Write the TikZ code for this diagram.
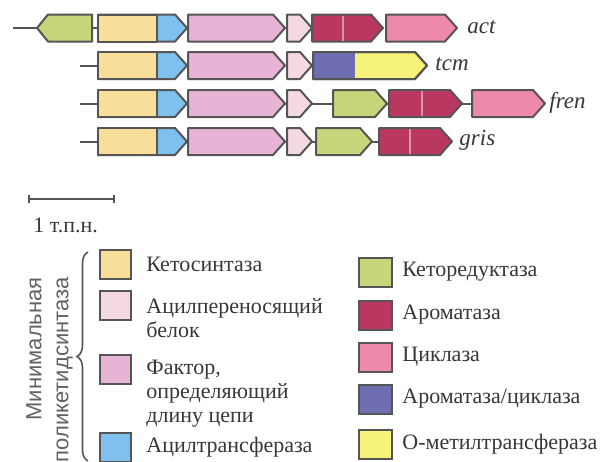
\documentclass[tikz,border=0pt]{standalone}
\usepackage{fontspec}
\setmainfont{Liberation Serif}
\newfontfamily\legendserif{Liberation Serif}
\newfontfamily\legendsans{Liberation Sans}
\usepackage{tikz}
\usepackage{xcolor}
\usetikzlibrary{arrows.meta, decorations.pathreplacing}
\definecolor{ksyellow}{RGB}{248, 222, 152}
\definecolor{atblue}{RGB}{128, 192, 238}
\definecolor{clfpink}{RGB}{232, 180, 214}
\definecolor{acppink}{RGB}{244, 216, 226}
\definecolor{krgreen}{RGB}{198, 214, 122}
\definecolor{aromred}{RGB}{186, 56, 96}
\definecolor{cycpink}{RGB}{238, 136, 172}
\definecolor{arcycviolet}{RGB}{112, 110, 178}
\definecolor{omtyellow}{RGB}{246, 242, 122}
\definecolor{outline}{RGB}{85, 85, 85}
\definecolor{legendtext}{RGB}{55, 55, 55}

% gene arrow pointing right: [extra]{x left}{x tip}{y}{colour}
\newcommand{\gene}[5][]{\filldraw[gene, fill=#5, #1] (#2,#4-13.5) -- (#3-12,#4-13.5) -- (#3,#4) -- (#3-12,#4+13.5) -- (#2,#4+13.5) -- cycle;}
% gene arrow pointing left: {x tip}{x right}{y}{colour}
\newcommand{\generev}[4]{\filldraw[gene, fill=#4] (#1,#3) -- (#1+11,#3-13.5) -- (#2,#3-13.5) -- (#2,#3+13.5) -- (#1+11,#3+13.5) -- cycle;}

\begin{document}
\begin{tikzpicture}[
    x=0.5pt, y=-0.5pt,
    gene/.style={draw=outline, line width=1pt, line join=round},
    backbone/.style={draw=outline, line width=1pt},
    divider/.style={draw=aromred!55!white, line width=0.8pt},
    genelabel/.style={anchor=west, inner sep=0pt, text=legendtext, font=\legendserif\fontsize{11.5}{12}\selectfont\itshape},
    legbox/.style={draw=outline, line width=1pt, minimum width=15.5pt, minimum height=14.5pt, inner sep=0pt},
    legboxwide/.style={legbox, minimum width=16.5pt},
    legtext/.style={inner sep=0pt, align=left, text=legendtext, font=\legendserif\fontsize{11}{12}\selectfont}
]
    \useasboundingbox (0,0) rectangle (608,461);

    % --- Coordinates ---
    \coordinate (act_l)  at (13, 28);
    \coordinate (act_r)  at (40, 28);
    \coordinate (tcm_l)  at (80, 65.5);
    \coordinate (tcm_r)  at (100, 65.5);
    \coordinate (fren_l) at (80, 103.5);
    \coordinate (fren_r) at (472, 103.5);
    \coordinate (gris_l) at (80, 141.5);
    \coordinate (gris_r) at (379, 141.5);

    % --- Backbones ---
    \draw[backbone] (act_l) -- (act_r);
    \draw[backbone] (90, 28) -- (100, 28);
    \draw[backbone] (tcm_l) -- (tcm_r);
    \draw[backbone] (fren_l) -- (fren_r);
    \draw[backbone] (gris_l) -- (gris_r);

    % --- Cluster act ---
    \generev{37}{92}{28}{krgreen}
    \gene{98}{187}{28}{atblue}
    \filldraw[gene, fill=ksyellow] (98,14.5) rectangle (157,41.5);
    \gene{188}{285}{28}{clfpink}
    \gene{287}{312}{28}{acppink}
    \gene{312}{383}{28}{aromred}
    \draw[divider] (343,15.5) -- (343,40.5);
    \gene{386}{457}{28}{cycpink}

    % --- Cluster tcm ---
    \gene{98}{187}{65.5}{atblue}
    \filldraw[gene, fill=ksyellow] (98,52) rectangle (157,79);
    \gene{188}{285}{65.5}{clfpink}
    \gene{287}{312}{65.5}{acppink}
    \gene{313}{427}{65.5}{omtyellow}
    \fill[arcycviolet] (313,52) rectangle (355,79);
    \gene[fill=none]{313}{427}{65.5}{omtyellow}

    % --- Cluster fren ---
    \gene{98}{187}{103.5}{atblue}
    \filldraw[gene, fill=ksyellow] (98,90) rectangle (157,117);
    \gene{188}{285}{103.5}{clfpink}
    \gene{287}{312}{103.5}{acppink}
    \gene{333}{387}{103.5}{krgreen}
    \gene{389}{462}{103.5}{aromred}
    \draw[divider] (422,91) -- (422,116);
    \gene{472}{545}{103.5}{cycpink}

    % --- Cluster gris ---
    \gene{98}{187}{141.5}{atblue}
    \filldraw[gene, fill=ksyellow] (98,128) rectangle (157,155);
    \gene{188}{285}{141.5}{clfpink}
    \gene{287}{312}{141.5}{acppink}
    \gene{316}{372}{141.5}{krgreen}
    \gene{379}{452}{141.5}{aromred}
    \draw[divider] (410,129) -- (410,154);

    % --- Cluster names ---
    \node[genelabel] (lbl_act)  at (467, 27)  {act};
    \node[genelabel] (lbl_tcm)  at (435, 64.5)  {tcm};
    \node[genelabel] (lbl_fren) at (549, 102.5) {fren};
    \node[genelabel] (lbl_gris) at (459, 140.5) {gris};

    % --- Scale bar ---
    \coordinate (bar_l) at (28, 199);
    \coordinate (bar_r) at (115, 199);
    \draw[backbone, {Bar[width=4pt]}-{Bar[width=4pt]}] (bar_l) -- (bar_r);
    \node[legtext, anchor=west] (bar_lbl) at (33, 225) {1 т.п.н.};

    % --- Legend: minimal PKS ---
    \coordinate (brace_bot) at (88, 461);
    \coordinate (brace_top) at (88, 252);
    \draw[draw=outline, line width=0.8pt, decorate, decoration={brace, amplitude=5.5pt}] (brace_bot) -- (brace_top);
    \node[rotate=90, anchor=east, align=right, inner sep=0pt, text=black!62,
          font=\legendsans\fontsize{11}{13.5}\selectfont] (minpks) at (49.5, 277)
          {Минимальная\\поликетидсинтаза};

    \node[legbox, fill=ksyellow] (lg_ks)  at (115.5, 264) {};
    \node[legbox, fill=acppink]  (lg_acp) at (115.5, 305) {};
    \node[legbox, fill=clfpink]  (lg_clf) at (115.5, 369) {};
    \node[legbox, fill=atblue]   (lg_at)  at (115.5, 447) {};

    \node[legtext, right=7pt] (txt_ks) at (lg_ks.east) {Кетосинтаза};
    \node[legtext, right=7pt, yshift=-6.5pt] (txt_acp) at (lg_acp.east) {Ацилпереносящий\\белок};
    \node[legtext, right=7pt, yshift=-12.5pt] (txt_clf) at (lg_clf.east) {Фактор,\\определяющий\\длину цепи};
    \node[legtext, right=7pt] (txt_at) at (lg_at.east) {Ацилтрансфераза};

    % --- Legend: tailoring enzymes ---
    \node[legboxwide, fill=krgreen]     (lg_kr)   at (375.5, 272) {};
    \node[legboxwide, fill=aromred]     (lg_aro)  at (375.5, 315) {};
    \node[legboxwide, fill=cycpink]     (lg_cyc)  at (375.5, 357) {};
    \node[legboxwide, fill=arcycviolet] (lg_arcy) at (375.5, 399) {};
    \node[legboxwide, fill=omtyellow]   (lg_omt)  at (375.5, 444) {};

    \node[legtext, right=4.5pt] (txt_kr)   at (lg_kr.east)   {Кеторедуктаза};
    \node[legtext, right=4.5pt] (txt_aro)  at (lg_aro.east)  {Ароматаза};
    \node[legtext, right=4.5pt] (txt_cyc)  at (lg_cyc.east)  {Циклаза};
    \node[legtext, right=4.5pt] (txt_arcy) at (lg_arcy.east) {Ароматаза/циклаза};
    \node[legtext, right=4.5pt] (txt_omt)  at (lg_omt.east)  {О-метилтрансфераза};

\end{tikzpicture}
\end{document}
